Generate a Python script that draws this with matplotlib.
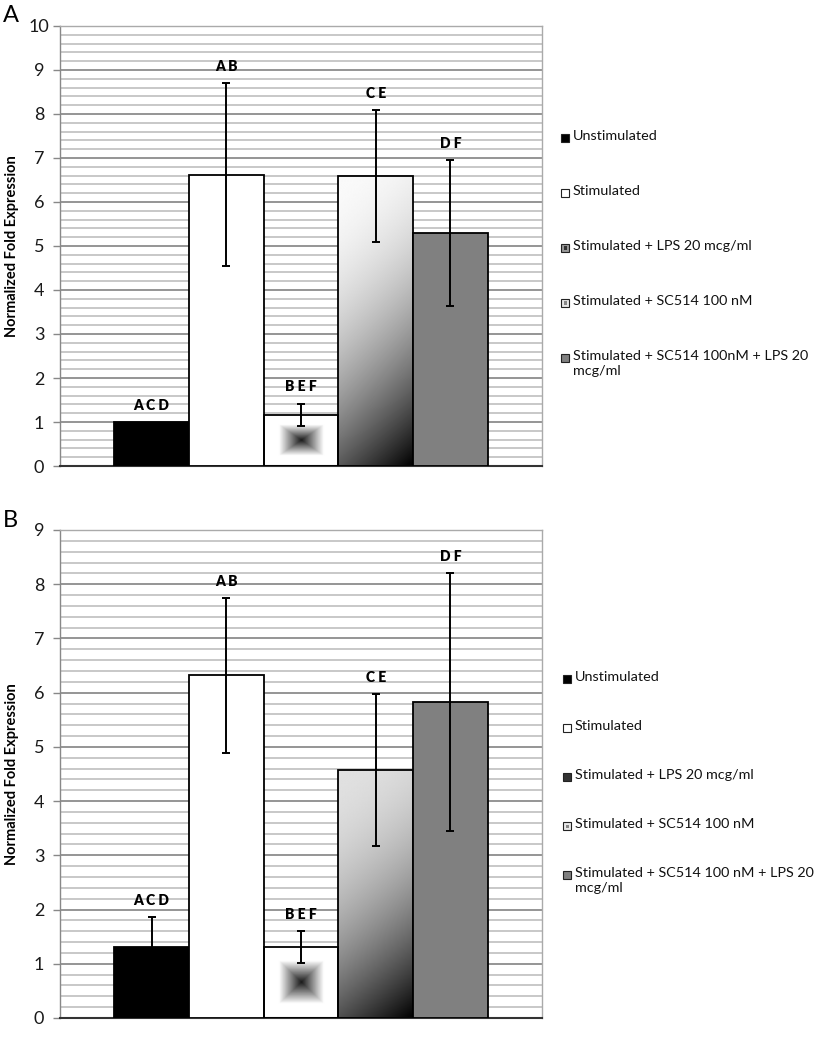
import numpy as np
import matplotlib
matplotlib.use("Agg")
import matplotlib.pyplot as plt
from matplotlib.patches import Rectangle

plt.rcParams['font.family'] = ['Lato', 'DejaVu Sans']

# ---------------- data ----------------
series = ["Unstimulated", "Stimulated", "Stimulated + LPS 20 mcg/ml",
          "Stimulated + SC514 100 nM", "Stimulated + SC514 100nM + LPS 20\nmcg/ml"]
series_b = ["Unstimulated", "Stimulated", "Stimulated + LPS 20 mcg/ml",
            "Stimulated + SC514 100 nM", "Stimulated + SC514 100 nM + LPS 20\nmcg/ml"]

values_a = [1.00, 6.62, 1.16, 6.59, 5.29]
errors_a = [0.00, 2.08, 0.26, 1.50, 1.66]
letters_a = ["A C D", "A B", "B E F", "C E", "D F"]

values_b = [1.31, 6.32, 1.31, 4.58, 5.82]
errors_b = [0.55, 1.43, 0.29, 1.40, 2.38]
letters_b = ["A C D", "A B", "B E F", "C E", "D F"]

ymax_a = 10
ymax_b = 9

W, H = 816, 1050
fig = plt.figure(figsize=(W / 100, H / 100), dpi=100)
fig.patch.set_facecolor('white')


def fx(px):
    return px / W


def fy(py):
    return 1 - py / H


def square_grad(n=120):
    u = np.linspace(-1, 1, n)
    U, V = np.meshgrid(u, u)
    t = np.maximum(np.abs(U), np.abs(V))
    g = np.clip(0.1 + 1.5 * t, 0, 1)
    return g


def linear_grad(n=200, top=0.97):
    r = np.linspace(0, 1, n)
    d = np.linspace(0, 1, n)
    R, D = np.meshgrid(r, d)  # D: fraction down from top (row 0 = top)
    s = 0.8 * D + 0.2 * R
    g = top * (1 - s ** 2)
    return g


fills = ['black', 'white', 'grad_sq', 'grad_lin', '#808080']


def draw_panel(ax, values, errors, letters, ymax, lin_top):
    width = 0.155
    n = len(values)
    xs = (np.arange(n) - (n - 1) / 2) * width
    ax.set_xlim(-0.5, 0.5)
    ax.set_ylim(0, ymax)
    ax.set_yticks(np.arange(0, ymax + 1, 1))
    ax.set_yticks(np.arange(0, ymax + 0.001, 0.2), minor=True)
    ax.grid(which='minor', axis='y', color='#c4c4c4', lw=1.3, zorder=0)
    ax.grid(which='major', axis='y', color='#8c8c8c', lw=1.3, zorder=0)
    ax.set_axisbelow(True)
    ax.tick_params(axis='y', which='minor', length=0)
    ax.tick_params(axis='y', which='major', length=5, width=1, color='#888888',
                   labelsize=13, pad=10, labelcolor='#1a1a1a')
    for t in ax.get_yticklabels():
        t.set_horizontalalignment('center')
    ax.tick_params(axis='x', length=0, labelbottom=False)
    for s in ['left', 'right', 'top']:
        ax.spines[s].set_color('#aaaaaa')
        ax.spines[s].set_linewidth(1.0)
    ax.spines['left'].set_color('#888888')
    ax.spines['bottom'].set_color('#333333')
    ax.spines['bottom'].set_linewidth(1.5)

    for i, (x, v, e, lab) in enumerate(zip(xs, values, errors, letters)):
        f = fills[i]
        fc = f if not f.startswith('grad') else 'none'
        bar = ax.bar(x, v, width=width, color=fc, edgecolor='black', lw=1.3, zorder=3)[0]
        if f == 'grad_sq':
            im = ax.imshow(square_grad(), cmap='gray', vmin=0, vmax=1, aspect='auto',
                           extent=[x - width / 2, x + width / 2, 0, v], zorder=2.5,
                           interpolation='bilinear')
            im.set_clip_path(bar)
        elif f == 'grad_lin':
            im = ax.imshow(linear_grad(top=lin_top), cmap='gray', vmin=0, vmax=1, aspect='auto',
                           extent=[x - width / 2, x + width / 2, 0, v], zorder=2.5,
                           interpolation='bilinear')
            im.set_clip_path(bar)
        if e > 0:
            ax.errorbar(x, v, yerr=e, fmt='none', ecolor='black', elinewidth=1.4,
                        capsize=3, capthick=1.4, zorder=5)
        ax.annotate(lab, (x, v + e), xytext=(0, 12), textcoords='offset points',
                    ha='center', va='center', fontsize=10, fontweight='heavy', zorder=6)
    ax.set_xlim(-0.5, 0.5)
    ax.set_ylim(0, ymax)
    ax.set_ylabel('Normalized Fold Expression', fontsize=10.5, fontweight='bold')
    ax.yaxis.set_label_coords(-(60 - 19) / 482, 0.5)


# panel A
axA = fig.add_axes([fx(60), fy(466), fx(542 - 60), (466 - 26) / H])
draw_panel(axA, values_a, errors_a, letters_a, ymax_a, 0.98)
# panel B
axB = fig.add_axes([fx(60), fy(1018), fx(542 - 60), (1018 - 530) / H])
draw_panel(axB, values_b, errors_b, letters_b, ymax_b, 0.88)

fig.text(fx(3), fy(5), 'A', fontsize=17, va='top', ha='left')
fig.text(fx(3), fy(510), 'B', fontsize=17, va='top', ha='left')

# legends (manual)
leg_markers_a = ['black', 'white', ('#999999', '#333333'), ('#e8e8e8', '#888888'), '#808080']
leg_markers_b = ['black', 'white', '#333333', ('#e8e8e8', '#888888'), '#808080']


def draw_legend(labels, markers, x0, y0, dy):
    for i, (lab, m) in enumerate(zip(labels, markers)):
        yc = y0 + i * dy
        sz = 8
        if isinstance(m, tuple):
            fig.patches.append(Rectangle((fx(x0), fy(yc + sz / 2)), sz / W, sz / H,
                                         transform=fig.transFigure, facecolor=m[0],
                                         edgecolor='#222222', lw=0.8))
            fig.patches.append(Rectangle((fx(x0 + 2.5), fy(yc + 1.5)), 3 / W, 3 / H,
                                         transform=fig.transFigure, facecolor=m[1],
                                         edgecolor='none'))
        else:
            fig.patches.append(Rectangle((fx(x0), fy(yc + sz / 2)), sz / W, sz / H,
                                         transform=fig.transFigure, facecolor=m,
                                         edgecolor='#222222', lw=0.8))
        fig.text(fx(x0 + 12), fy(yc - 8), lab, fontsize=10.4, va='top', ha='left',
                 linespacing=1.3, color='#111111')


draw_legend(series, leg_markers_a, 561, 138, 55)
draw_legend(series_b, leg_markers_b, 563, 679, 49)

fig.savefig('out.png', dpi=100, facecolor='white')
